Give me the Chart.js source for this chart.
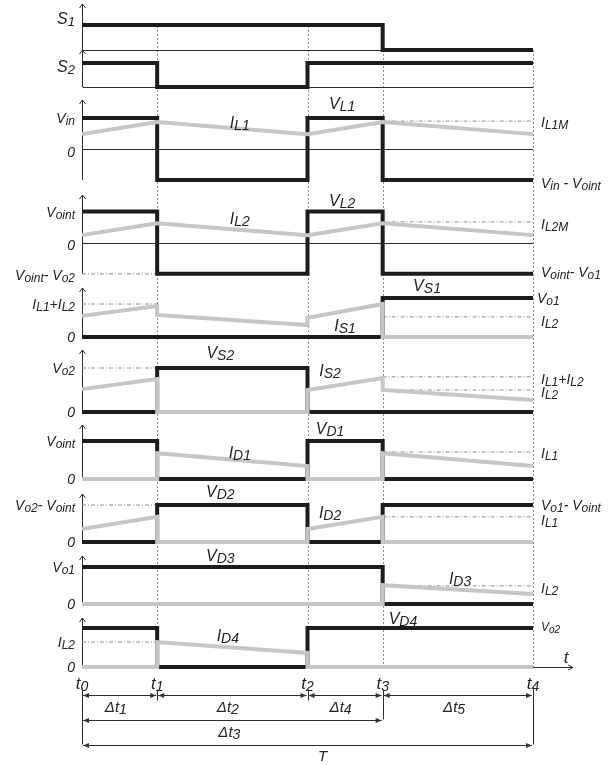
<!DOCTYPE html>
<html>
<head>
<meta charset="utf-8">
<script src="https://cdn.jsdelivr.net/npm/chart.js@4/dist/chart.umd.min.js"></script>
<style>
  html, body { margin: 0; padding: 0; background: #fff; }
  canvas { display: block; }
</style>
</head>
<body>
<canvas id="wave" width="613" height="765"></canvas>
<script>
// Switching instants t0..t4 in normalised time (t1-t0 = t3-t2 = 1, t2-t1 = t4-t3 = 2)
const instants = [0, 1, 3, 4, 6];
const instantNames = ['t_{0}', 't_{1}', 't_{2}', 't_{3}', 't_{4}'];

// Gate signals and voltages: level held over each of the four intervals
const s1Gate = [1, 1, 1, 0];
const s2Gate = [1, 0, 1, 1];
const vL1 = [1, -1, 1, -1];
const vL2 = [1, -0.98, 1, -0.98];
const vS1 = [0, 0, 0, 1.18];
const vS2 = [0, 1, 0, 0];
const vD1 = [1, 0, 1, 0];
const vD2 = [0, 1, 0, 1];
const vD3 = [1, 1, 1, 0];
const vD4 = [1, 0, 1, 1];

// Currents: [start, end] of the ramp over each interval
const iL1 = [[0.48, 0.87], [0.87, 0.48], [0.48, 0.87], [0.87, 0.48]];
const iL2 = [[0.25, 0.63], [0.63, 0.25], [0.25, 0.63], [0.63, 0.25]];
const iS1 = [[0.64, 0.94], [0.67, 0.36], [0.58, 1.0], [0, 0]];
const iS2 = [[0.52, 0.75], [0, 0], [0.5, 0.77], [0.5, 0.27]];
const iD1 = [[0, 0], [0.68, 0.34], [0, 0], [0.68, 0.34]];
const iD2 = [[0.35, 0.68], [0, 0], [0.35, 0.68], [0, 0]];
const iD3 = [[0, 0], [0, 0], [0, 0], [0.51, 0.27]];
const iD4 = [[0, 0], [0.64, 0.36], [0, 0], [0, 0]];

// Dash-dot reference levels: [axis, level, from instant index, to instant index]
const guides = [
  ['yL1', 0.9, 3, 4],
  ['yL2', -0.98, 0, 1],
  ['yL2', 0.67, 3, 4],
  ['yS1v', 1.0, 0, 1],
  ['yS1v', 0.61, 3, 4],
  ['yS2v', 1.0, 0, 1],
  ['yS2v', 0.8, 3, 4],
  ['yS2v', 0.5, 3, 4],
  ['yD1', 0.71, 3, 4],
  ['yD2', 1.0, 0, 1],
  ['yD2', 0.68, 3, 4],
  ['yD3', 0.49, 3, 4],
  ['yD4', 0.64, 0, 1]
];

// Panel bands (pixel band, zero row, pixels per unit) and the low end of each vertical axis
const panels = [
  { id: 'yS1',  top: 4,   bottom: 50,  zero: 50,  unit: 25,   low: 0 },
  { id: 'yS2',  top: 50,  bottom: 100, zero: 87,  unit: 24,   low: 0 },
  { id: 'yL1',  top: 100, bottom: 195, zero: 149, unit: 31,   low: -1 },
  { id: 'yL2',  top: 195, bottom: 288, zero: 243, unit: 31.5, low: -0.98 },
  { id: 'yS1v', top: 288, bottom: 350, zero: 337, unit: 33,   low: 0 },
  { id: 'yS2v', top: 350, bottom: 425, zero: 412, unit: 44,   low: 0 },
  { id: 'yD1',  top: 425, bottom: 494, zero: 479, unit: 38,   low: 0 },
  { id: 'yD2',  top: 494, bottom: 556, zero: 542, unit: 37,   low: 0 },
  { id: 'yD3',  top: 556, bottom: 618, zero: 604, unit: 37,   low: 0 },
  { id: 'yD4',  top: 618, bottom: 667, zero: 667, unit: 39,   low: 0 }
];

// Axis annotations: [axis, value, text]
const leftLabels = [
  ['yS1', 1.28, 'S_{1}'], ['yS2', 0.875, 'S_{2}'],
  ['yL1', 1, 'V_{in}'], ['yL1', -0.1, '0'],
  ['yL2', 1, 'V_{oint}'], ['yL2', -0.06, '0'], ['yL2', -1.0, 'V_{oint}- V_{o2}'],
  ['yS1v', 1, 'I_{L1}+I_{L2}'], ['yS1v', 0, '0'],
  ['yS2v', 1, 'V_{o2}'], ['yS2v', 0, '0'],
  ['yD1', 1, 'V_{oint}'], ['yD1', 0, '0'],
  ['yD2', 1, 'V_{o2}- V_{oint}'], ['yD2', 0, '0'],
  ['yD3', 1, 'V_{o1}'], ['yD3', 0, '0'],
  ['yD4', 0.64, 'I_{L2}'], ['yD4', 0, '0']
];
const rightLabels = [
  ['yL1', 0.87, 'I_{L1M}'], ['yL1', -1.1, 'V_{in} - V_{oint}'],
  ['yL2', 0.6, 'I_{L2M}'], ['yL2', -0.92, 'V_{oint}- V_{o1}'],
  ['yS1v', 1.18, 'V_{o1}'], ['yS1v', 0.48, 'I_{L2}'],
  ['yS2v', 0.75, 'I_{L1}+I_{L2}'], ['yS2v', 0.45, 'I_{L2}'],
  ['yD1', 0.68, 'I_{L1}'],
  ['yD2', 1.0, 'V_{o1}- V_{oint}'], ['yD2', 0.6, 'I_{L1}'],
  ['yD3', 0.43, 'I_{L2}'],
  ['yD4', 1.03, 'V_{o2}']
];
// Waveform names: [axis, time, value, text]
const traceLabels = [
  ['yL1', 2.1, 0.87, 'I_{L1}'], ['yL1', 3.46, 1.48, 'V_{L1}'],
  ['yL2', 2.1, 0.79, 'I_{L2}'], ['yL2', 3.46, 1.37, 'V_{L2}'],
  ['yS1v', 4.59, 1.58, 'V_{S1}'], ['yS1v', 3.5, 0.36, 'I_{S1}'],
  ['yS2v', 1.84, 1.36, 'V_{S2}'], ['yS2v', 3.3, 0.95, 'I_{S2}'],
  ['yD1', 2.1, 0.71, 'I_{D1}'], ['yD1', 3.3, 1.34, 'V_{D1}'],
  ['yD2', 1.84, 1.38, 'V_{D2}'], ['yD2', 3.3, 0.81, 'I_{D2}'],
  ['yD3', 1.84, 1.32, 'V_{D3}'], ['yD3', 5.03, 0.7, 'I_{D3}'],
  ['yD4', 1.94, 0.82, 'I_{D4}'], ['yD4', 4.27, 1.26, 'V_{D4}']
];
// Interval dimension arrows: [from index, to index, row, label, label time]
const spans = [
  [0, 1, 0, 'Δt_{1}', 0.45], [1, 3, 0, 'Δt_{2}', 1.94], [3, 4, 0, 'Δt_{4}', 3.44], [4, 6, 0, 'Δt_{5}', 4.95],
  [0, 4, 1, 'Δt_{3}', 1.96], [0, 6, 2, 'T', 3.2]
];

const INK = '#1c1c1c';
const GREY = '#c6c6c6';
const THIN = '#2b2b2b';
const GUIDE = '#8e8e8e';
const FONT = '"Liberation Sans", Arial, Helvetica, sans-serif';

function trace(pairs) {
  const pts = [];
  pairs.forEach((p, i) => {
    const a = Array.isArray(p) ? p[0] : p;
    const b = Array.isArray(p) ? p[1] : p;
    pts.push({ x: instants[i], y: a });
    pts.push({ x: instants[i + 1], y: b });
  });
  return pts;
}

const datasets = [];
function addTrace(axis, pairs, colour, order) {
  datasets.push({
    data: trace(pairs), yAxisID: axis, borderColor: colour, borderWidth: 4,
    borderJoinStyle: 'miter', borderCapStyle: 'butt', pointRadius: 0, tension: 0,
    fill: false, order: order
  });
}
// currents (light) are drawn over the voltages (dark)
addTrace('yS1', s1Gate, INK, 2);
addTrace('yS2', s2Gate, INK, 2);
addTrace('yL1', vL1, INK, 2);   addTrace('yL1', iL1, GREY, 1);
addTrace('yL2', vL2, INK, 2);   addTrace('yL2', iL2, GREY, 1);
addTrace('yS1v', vS1, INK, 2);  addTrace('yS1v', iS1, GREY, 1);
addTrace('yS2v', vS2, INK, 2);  addTrace('yS2v', iS2, GREY, 1);
addTrace('yD1', vD1, INK, 2);   addTrace('yD1', iD1, GREY, 1);
addTrace('yD2', vD2, INK, 2);   addTrace('yD2', iD2, GREY, 1);
addTrace('yD3', vD3, INK, 2);   addTrace('yD3', iD3, GREY, 1);
addTrace('yD4', vD4, INK, 2);   addTrace('yD4', iD4, GREY, 1);
guides.forEach(g => {
  datasets.push({
    data: [{ x: instants[g[2]], y: g[1] }, { x: instants[g[3]], y: g[1] }],
    yAxisID: g[0], borderColor: GUIDE, borderWidth: 1, borderDash: [4, 2, 1, 2],
    pointRadius: 0, fill: false, order: 3
  });
});

const scales = {
  x: { type: 'linear', min: instants[0], max: instants[instants.length - 1], display: false }
};
panels.forEach((p, i) => {
  scales[p.id] = {
    type: 'linear', position: 'left', stack: 'panels', stackWeight: p.bottom - p.top,
    weight: panels.length - i, display: false,
    min: -(p.bottom - p.zero) / p.unit, max: (p.zero - p.top) / p.unit
  };
});

function richParts(str) {
  const parts = [];
  const re = /_\{([^}]*)\}/g;
  let last = 0, m;
  while ((m = re.exec(str))) {
    if (m.index > last) parts.push({ t: str.slice(last, m.index), sub: false });
    parts.push({ t: m[1], sub: true });
    last = re.lastIndex;
  }
  if (last < str.length) parts.push({ t: str.slice(last), sub: false });
  return parts;
}
function drawRich(ctx, str, x, y, align, size, subSize) {
  size = size || 14;
  subSize = subSize || Math.round(size * 0.85);
  const parts = richParts(str);
  let w = 0;
  parts.forEach(p => {
    ctx.font = 'italic ' + (p.sub ? subSize : size) + 'px ' + FONT;
    p.w = ctx.measureText(p.t).width;
    w += p.w;
  });
  let cx = align === 'right' ? x - w : align === 'center' ? x - w / 2 : x;
  ctx.textAlign = 'left';
  ctx.textBaseline = 'alphabetic';
  const base = y + size * 0.36;
  parts.forEach(p => {
    ctx.font = 'italic ' + (p.sub ? subSize : size) + 'px ' + FONT;
    ctx.fillText(p.t, cx, p.sub ? base + size * 0.14 : base);
    cx += p.w;
  });
}
function openArrowUp(ctx, x, y) {
  ctx.beginPath();
  ctx.moveTo(x - 3, y + 4); ctx.lineTo(x, y); ctx.lineTo(x + 3, y + 4);
  ctx.stroke();
}
function solidHead(ctx, x, y, dir) {
  ctx.beginPath();
  ctx.moveTo(x, y);
  ctx.lineTo(x - dir * 6, y - 2.5);
  ctx.lineTo(x - dir * 6, y + 2.5);
  ctx.closePath();
  ctx.fill();
}

const diagramDecor = {
  id: 'diagramDecor',
  beforeDatasetsDraw(chart) {
    const ctx = chart.ctx;
    const xs = chart.scales.x;
    const area = chart.chartArea;
    ctx.save();
    // switching instant markers
    ctx.strokeStyle = '#8a8a8a';
    ctx.lineWidth = 1;
    ctx.setLineDash([2, 2]);
    instants.slice(1).forEach((t, i) => {
      const px = Math.round(xs.getPixelForValue(t)) + 0.5;
      const y0 = i === instants.length - 2 ? chart.scales.yS1.getPixelForValue(0) : area.top + 22;
      ctx.beginPath(); ctx.moveTo(px, y0); ctx.lineTo(px, area.bottom); ctx.stroke();
    });
    ctx.setLineDash([]);
    // vertical axes and zero lines of every panel
    ctx.strokeStyle = THIN;
    const x0 = Math.round(xs.getPixelForValue(instants[0])) + 0.5;
    const xEnd = xs.getPixelForValue(instants[instants.length - 1]);
    panels.forEach(p => {
      const ys = chart.scales[p.id];
      const zy = Math.round(ys.getPixelForValue(0)) + 0.5;
      const lowY = ys.getPixelForValue(p.low);
      ctx.beginPath(); ctx.moveTo(x0, lowY); ctx.lineTo(x0, ys.top); ctx.stroke();
      openArrowUp(ctx, x0, ys.top);
      ctx.beginPath(); ctx.moveTo(x0, zy); ctx.lineTo(xEnd, zy); ctx.stroke();
    });
    ctx.restore();
  },
  afterDatasetsDraw(chart) {
    const ctx = chart.ctx;
    const xs = chart.scales.x;
    const area = chart.chartArea;
    const x0 = xs.getPixelForValue(instants[0]);
    const x4 = xs.getPixelForValue(instants[instants.length - 1]);
    ctx.save();
    ctx.fillStyle = '#222';
    leftLabels.forEach(l => {
      const big = l[2].charAt(0) === 'S';
      drawRich(ctx, l[2], x0 - 7, chart.scales[l[0]].getPixelForValue(l[1]), 'right', big ? 16 : 14, big ? 13 : 12);
    });
    rightLabels.forEach(l => {
      const dx = l[2] === 'V_{o1}' ? 4 : 8;
      const small = l[2] === 'V_{o2}';
      drawRich(ctx, l[2], x4 + dx, chart.scales[l[0]].getPixelForValue(l[1]), 'left', small ? 12 : 14, small ? 10 : 12);
    });
    traceLabels.forEach(l => drawRich(ctx, l[3], xs.getPixelForValue(l[1]), chart.scales[l[0]].getPixelForValue(l[2]), 'center', 16, 14));

    // time axis with arrow
    const by = Math.round(area.bottom) + 0.5;
    ctx.strokeStyle = THIN; ctx.lineWidth = 1;
    ctx.beginPath(); ctx.moveTo(x4, by); ctx.lineTo(x4 + 40, by); ctx.stroke();
    ctx.beginPath(); ctx.moveTo(x4 + 35, by - 2.5); ctx.lineTo(x4 + 40, by); ctx.lineTo(x4 + 35, by + 2.5); ctx.stroke();
    drawRich(ctx, 't', x4 + 33, by - 11, 'center', 17);
    instants.forEach((t, i) => drawRich(ctx, instantNames[i], xs.getPixelForValue(t), by + 15, 'center', 17, 14));

    // interval dimensions
    const rows = [by + 27, by + 52, by + 77];
    ctx.fillStyle = '#333';
    spans.forEach(s => {
      const a = xs.getPixelForValue(s[0]) + 1, b = xs.getPixelForValue(s[1]) - 1;
      const y = Math.round(rows[s[2]]) + 0.5;
      ctx.beginPath(); ctx.moveTo(a, y); ctx.lineTo(b, y); ctx.stroke();
      solidHead(ctx, a, y, -1); solidHead(ctx, b, y, 1);
    });
    const tick = (t, y1, y2) => {
      const px = Math.round(xs.getPixelForValue(t)) + 0.5;
      ctx.beginPath(); ctx.moveTo(px, y1); ctx.lineTo(px, y2); ctx.stroke();
    };
    tick(instants[0], by + 21, rows[2]);
    tick(instants[1], rows[0] - 5, rows[0] + 6);
    tick(instants[2], rows[0] - 5, rows[0] + 6);
    tick(instants[3], by + 22, rows[1]);
    tick(instants[4], by + 20, rows[2]);
    ctx.fillStyle = '#222';
    spans.forEach(s => drawRich(ctx, s[3], xs.getPixelForValue(s[4]), rows[s[2]] + (s[2] === 2 ? 11 : 12), 'center', 15, 14));
    ctx.restore();
  }
};

new Chart(document.getElementById('wave'), {
  type: 'line',
  data: { datasets: datasets },
  options: {
    responsive: false,
    animation: false,
    devicePixelRatio: 1,
    layout: { padding: { left: 82, right: 80, top: 4, bottom: 98 } },
    plugins: { legend: { display: false }, tooltip: { enabled: false }, title: { display: false } },
    scales: scales,
    clip: false
  },
  plugins: [diagramDecor]
});
</script>
</body>
</html>
